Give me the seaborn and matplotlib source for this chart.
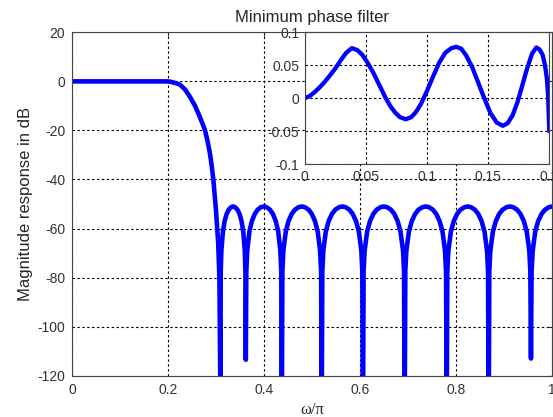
import pandas as pd
import matplotlib
matplotlib.use('Agg')
import matplotlib.pyplot as plt
import seaborn as sns

sns.set_style("white")
plt.rcParams['font.family'] = ['Liberation Sans', 'DejaVu Sans']
plt.rcParams['axes.unicode_minus'] = False

# magnitude response (omega/pi, dB)
passband_w = [0, 0.05, 0.1, 0.15, 0.1967, 0.205, 0.215, 0.224, 0.235, 0.245, 0.2545, 0.2625,
              0.2695, 0.2765, 0.282, 0.2868, 0.2905, 0.294, 0.2994, 0.304, 0.3065, 0.3085]
passband_db = [0, 0, 0, 0, 0, -0.15, -0.7, -1.3, -3.3, -6.3, -9.5, -13,
               -16.3, -19.9, -24.5, -29.4, -34.5, -40.3, -52.6, -66, -80, -125]

stop_w = [0.3093, 0.3106, 0.3138, 0.3175, 0.3218, 0.3260, 0.3308, 0.3350, 0.3392, 0.3440, 0.3483, 0.3525, 0.3562, 0.3594, 0.3607, 0.3615,
          0.3626, 0.3645, 0.3690, 0.3743, 0.3803, 0.3863, 0.3930, 0.3990, 0.4050, 0.4118, 0.4178, 0.4238, 0.4290, 0.4335, 0.4354, 0.4365,
          0.4377, 0.4398, 0.4448, 0.4506, 0.4573, 0.4639, 0.4714, 0.4781, 0.4847, 0.4922, 0.4988, 0.5055, 0.5113, 0.5163, 0.5184, 0.5196,
          0.5209, 0.5230, 0.5282, 0.5342, 0.5411, 0.5480, 0.5557, 0.5626, 0.5695, 0.5772, 0.5841, 0.5910, 0.5970, 0.6022, 0.6043, 0.6056,
          0.6069, 0.6091, 0.6143, 0.6204, 0.6273, 0.6343, 0.6421, 0.6491, 0.6560, 0.6638, 0.6708, 0.6777, 0.6838, 0.6890, 0.6912, 0.6925,
          0.6938, 0.6960, 0.7013, 0.7074, 0.7144, 0.7214, 0.7293, 0.7363, 0.7433, 0.7511, 0.7581, 0.7651, 0.7713, 0.7765, 0.7787, 0.7800,
          0.7813, 0.7835, 0.7888, 0.7949, 0.8019, 0.8089, 0.8168, 0.8238, 0.8308, 0.8386, 0.8456, 0.8526, 0.8588, 0.8640, 0.8662, 0.8675,
          0.8688, 0.8710, 0.8763, 0.8825, 0.8895, 0.8966, 0.9045, 0.9116, 0.9186, 0.9265, 0.9336, 0.9406, 0.9468, 0.9521, 0.9543, 0.9556,
          0.9569, 0.9592, 0.9645, 0.9707, 0.9778, 0.9849, 0.9929, 1.0]
stop_db = [-77.5, -69, -61.2, -56.9, -54, -52.3, -51.3, -51, -51.3, -52.3, -54, -56.9, -61.2, -69, -77.5, -113.5,
           -77.5, -69, -61.2, -56.9, -54, -52.3, -51.3, -51, -51.3, -52.3, -54, -56.9, -61.2, -69, -77.5, -140,
           -77.5, -69, -61.2, -56.9, -54, -52.3, -51.3, -51, -51.3, -52.3, -54, -56.9, -61.2, -69, -77.5, -140,
           -77.5, -69, -61.2, -56.9, -54, -52.3, -51.3, -51, -51.3, -52.3, -54, -56.9, -61.2, -69, -77.5, -140,
           -77.5, -69, -61.2, -56.9, -54, -52.3, -51.3, -51, -51.3, -52.3, -54, -56.9, -61.2, -69, -77.5, -140,
           -77.5, -69, -61.2, -56.9, -54, -52.3, -51.3, -51, -51.3, -52.3, -54, -56.9, -61.2, -69, -77.5, -140,
           -77.5, -69, -61.2, -56.9, -54, -52.3, -51.3, -51, -51.3, -52.3, -54, -56.9, -61.2, -69, -77.5, -140,
           -77.5, -69, -61.2, -56.9, -54, -52.3, -51.3, -51, -51.3, -52.3, -54, -56.9, -61.2, -69, -77.5, -113,
           -77.5, -69, -61.2, -56.9, -54, -52.3, -51.3, -51]

# passband ripple (inset)
ripple_w = [0, 0.004, 0.008, 0.012, 0.016, 0.02, 0.025, 0.03, 0.034, 0.0385, 0.043, 0.047, 0.051,
            0.056, 0.061, 0.066, 0.07, 0.074, 0.078, 0.0826, 0.087, 0.091, 0.095, 0.1, 0.105,
            0.11, 0.115, 0.12, 0.124, 0.128, 0.132, 0.137, 0.142, 0.147, 0.152, 0.157, 0.162,
            0.166, 0.17, 0.174, 0.178, 0.182, 0.186, 0.1894, 0.192, 0.1945, 0.1965, 0.198, 0.199, 0.2]
ripple_db = [0, 0.003, 0.009, 0.016, 0.024, 0.033, 0.045, 0.059, 0.069, 0.076, 0.073, 0.066, 0.055,
             0.039, 0.02, 0.001, -0.012, -0.022, -0.029, -0.032, -0.029, -0.021, -0.009, 0.011, 0.033,
             0.054, 0.069, 0.076, 0.078, 0.075, 0.065, 0.047, 0.023, -0.001, -0.023, -0.037, -0.042,
             -0.038, -0.026, -0.006, 0.02, 0.046, 0.068, 0.077, 0.074, 0.066, 0.05, 0.03, 0.005, -0.05]

xticks = [0, 0.2, 0.4, 0.6, 0.8, 1]
xticklabels = ['0', '0.2', '0.4', '0.6', '0.8', '1']
yticks = [20, 0, -20, -40, -60, -80, -100, -120]
inset_xticks = [0, 0.05, 0.1, 0.15, 0.2]
inset_xlabels = ['0', '0.05', '0.1', '0.15', '0.2']
inset_yticks = [0.1, 0.05, 0, -0.05, -0.1]
inset_ylabels = ['0.1', '0.05', '0', '-0.05', '-0.1']

main_df = pd.DataFrame({'w': passband_w + stop_w, 'db': passband_db + stop_db})
zoom_df = pd.DataFrame({'w': ripple_w, 'db': ripple_db})

blue = '#0000ff'
grid_kw = dict(color='k', linestyle=(0, (2.2, 2.2)), linewidth=0.8)

fig = plt.figure(figsize=(5.53, 4.17), dpi=100)
ax = fig.add_axes([0.1307, 0.099, 0.868, 0.8235])
sns.lineplot(data=main_df, x='w', y='db', ax=ax, color=blue, linewidth=3.3,
             estimator=None, sort=False)
ax.set_xlim(0, 1)
ax.set_ylim(-120, 20)
ax.set_xticks(xticks)
ax.set_xticklabels(xticklabels)
ax.set_yticks(yticks)
ax.set_yticklabels([str(v) for v in yticks])
ax.grid(True, **grid_kw)
ax.tick_params(direction='in', length=3, labelsize=10, labelcolor='#333333', pad=5,
               top=True, right=True)
ax.set_xlabel('ω/π', fontsize=12, family=['Liberation Serif', 'DejaVu Serif'], labelpad=4)
ax.set_ylabel('Magnitude response in dB', fontsize=12, labelpad=3)
ax.set_title('Minimum phase filter', fontsize=12, pad=7.5)
for s in ax.spines.values():
    s.set_color('#444444')
    s.set_linewidth(0.8)

# zoomed passband inset
ax2 = fig.add_axes([0.551, 0.6067, 0.4423, 0.3158])
ax2.set_facecolor('white')
sns.lineplot(data=zoom_df, x='w', y='db', ax=ax2, color=blue, linewidth=3.1,
             estimator=None, sort=False)
ax2.set_xlim(0, 0.2)
ax2.set_ylim(-0.1, 0.1)
ax2.set_xticks(inset_xticks)
ax2.set_xticklabels(inset_xlabels)
ax2.set_yticks(inset_yticks)
ax2.set_yticklabels(inset_ylabels)
ax2.grid(True, **grid_kw)
ax2.tick_params(direction='in', length=3, labelsize=10, labelcolor='#333333', pad=4)
ax2.set_xlabel('')
ax2.set_ylabel('')
for s in ax2.spines.values():
    s.set_color('#444444')
    s.set_linewidth(0.8)

fig.savefig('out.png', dpi=100)
